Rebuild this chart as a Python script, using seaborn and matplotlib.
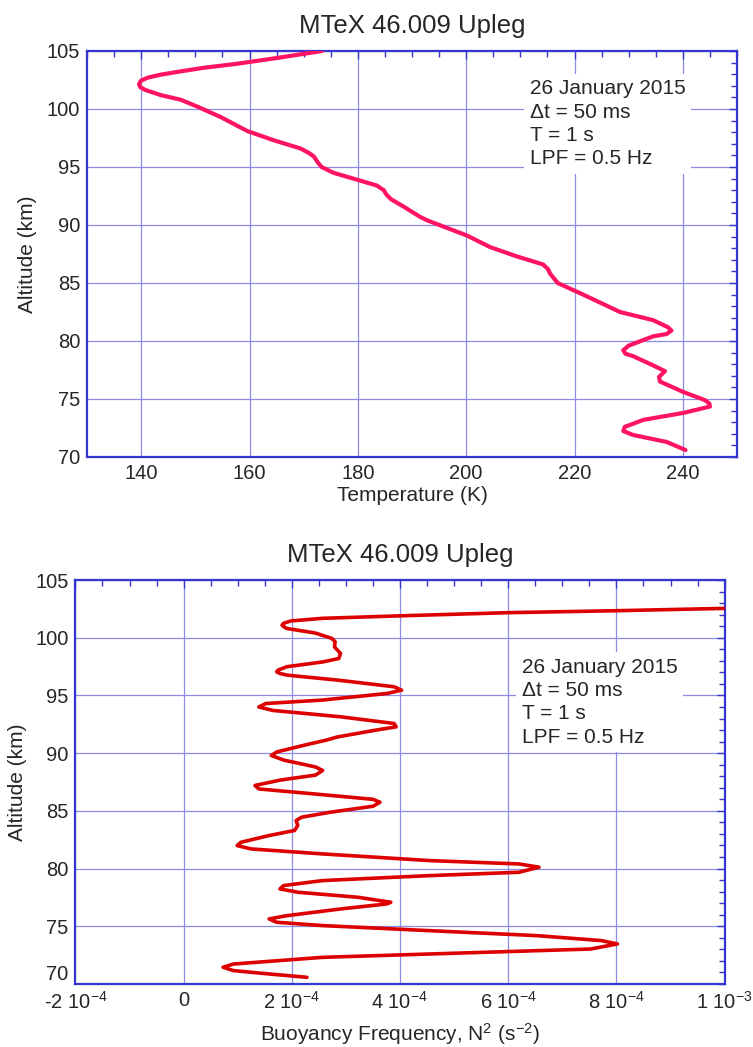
import matplotlib
matplotlib.use("Agg")
import matplotlib.pyplot as plt
import seaborn as sns
import numpy as np
from matplotlib.ticker import MultipleLocator, FixedLocator

# Temperature profile, MTeX 46.009 upleg (altitude in km, temperature in K)
temp_alt = [105.0, 104.4, 103.9, 103.55, 103.2, 102.95, 102.7, 102.45, 102.15, 101.9,
            101.65, 101.2, 100.8, 100.2, 99.3, 98.1, 97.3, 96.6, 96.2, 95.9,
            95.4, 95.0, 94.5, 93.9, 93.4, 93.0, 92.6, 92.2, 91.6, 90.7,
            90.4, 89.1, 88.1, 87.3, 86.6, 86.2, 85.8, 85.0, 84.0, 82.5,
            81.8, 81.2, 80.9, 80.6, 80.4, 79.6, 79.2, 78.9, 78.7, 77.9,
            77.4, 76.9, 76.5, 75.6, 74.9, 74.6, 74.35, 73.8, 73.2, 72.6,
            72.24, 71.9, 71.3, 70.6]
temp_K = [173.4, 165.1, 157.7, 151.5, 146.7, 143.5, 141.2, 140.0, 139.6, 139.8,
          140.7, 143.6, 147.3, 150.4, 154.7, 159.6, 164.5, 169.4, 171.0, 171.9,
          172.6, 173.3, 175.5, 179.9, 183.5, 184.8, 185.3, 186.2, 188.4, 191.5,
          192.8, 200.1, 204.4, 209.3, 214.2, 215.1, 215.5, 216.9, 221.6, 228.4,
          234.5, 237.2, 237.9, 237.0, 234.5, 230.0, 229.0, 229.4, 230.8, 234.5,
          236.7, 235.6, 235.8, 240.1, 244.1, 244.9, 245.0, 240.1, 232.7, 229.3,
          229.0, 230.8, 237.0, 240.5]

# Buoyancy frequency squared profile (N^2 in units of 1e-4 s^-2)
n2_alt = [102.75, 102.54, 102.34, 102.17, 101.9, 101.68, 101.45, 101.25, 101.1, 100.95,
          100.8, 100.4, 99.94, 99.65, 99.2, 98.64, 98.2, 97.9, 97.49, 97.2,
          97.05, 96.9, 96.76, 96.3, 95.75, 95.46, 95.17, 94.6, 94.3, 94.0,
          93.7, 93.15, 92.57, 92.28, 92.0, 91.4, 91.13, 90.7, 90.1, 89.8,
          89.4, 88.8, 88.5, 88.1, 87.66, 87.2, 86.9, 86.4, 86.0, 85.75,
          85.4, 84.88, 84.45, 84.16, 83.73, 83.3, 82.86, 82.28, 81.99, 81.7,
          81.27, 80.69, 80.4, 80.12, 79.68, 79.39, 78.96, 78.53, 78.24, 77.95,
          77.51, 77.08, 76.94, 76.5, 75.92, 75.64, 75.35, 75.06, 74.62, 74.19,
          73.76, 73.47, 73.03, 72.6, 72.31, 71.73, 71.45, 71.16, 70.87, 70.58]
n2_e4 = [12.0, 10.0, 8.0, 6.0, 4.03, 2.57, 1.98, 1.85, 1.82, 1.85,
         1.91, 2.44, 2.74, 2.8, 2.79, 2.9, 2.87, 2.57, 1.91, 1.75,
         1.72, 1.78, 1.91, 2.9, 3.89, 4.03, 3.76, 2.57, 1.52, 1.39,
         1.65, 2.9, 3.89, 3.93, 3.56, 2.84, 2.64, 2.24, 1.72, 1.62,
         1.85, 2.44, 2.57, 2.44, 1.78, 1.32, 1.39, 2.57, 3.5, 3.63,
         3.5, 2.71, 2.18, 2.08, 2.11, 2.05, 1.58, 1.06, 0.99, 1.25,
         2.57, 4.55, 6.2, 6.57, 6.2, 4.55, 2.57, 1.85, 1.78, 2.11,
         3.23, 3.83, 3.76, 2.9, 1.91, 1.58, 1.72, 2.57, 4.55, 6.53,
         7.72, 8.02, 7.52, 4.55, 2.57, 0.92, 0.73, 0.92, 1.58, 2.28]

alt_ticks = [70, 75, 80, 85, 90, 95, 100, 105]
temp_ticks = [140, 160, 180, 200, 220, 240]
n2_ticks = [-2e-4, 0, 2e-4, 4e-4, 6e-4, 8e-4, 1e-3]
n2_tick_labels = ["-2 10$^{-4}$", "0", "2 10$^{-4}$", "4 10$^{-4}$",
                  "6 10$^{-4}$", "8 10$^{-4}$", "1 10$^{-3}$"]

title = "MTeX 46.009 Upleg"
note = "26 January 2015\n\u0394t = 50 ms\nT = 1 s\nLPF = 0.5 Hz"

sns.set_style("white")
plt.rcParams["font.family"] = ["Liberation Sans", "DejaVu Sans"]
plt.rcParams["mathtext.fontset"] = "custom"
plt.rcParams["mathtext.rm"] = "Liberation Sans"
plt.rcParams["mathtext.default"] = "regular"

SPINE = "#3535d0"
GRID = "#8c8ce8"

fig = plt.figure(figsize=(7.53, 10.47), dpi=100)
ax1 = fig.add_axes([87 / 753, 1 - 457 / 1047, 650 / 753, 406 / 1047])
ax2 = fig.add_axes([75.4 / 753, 1 - 984 / 1047, 649.2 / 753, 404 / 1047])


def style_axes(ax):
    for sp in ax.spines.values():
        sp.set_visible(True)
        sp.set_color(SPINE)
        sp.set_linewidth(1.6)
    ax.grid(True, which="major", color=GRID, lw=0.9)
    ax.tick_params(which="both", direction="in", top=True, right=True,
                   color=SPINE, labelsize=14.5, pad=5)
    ax.tick_params(which="major", length=6, width=1.0)
    ax.tick_params(which="minor", length=4, width=1.0)
    ax.set_axisbelow(True)


# Upper panel: temperature
sns.lineplot(x=temp_K, y=temp_alt, sort=False, estimator=None, ax=ax1,
             color="#ff1464", lw=3.0, zorder=4,
             solid_joinstyle="round", solid_capstyle="round")
ax1.set_xlim(130, 250)
ax1.set_ylim(70, 105)
ax1.xaxis.set_major_locator(FixedLocator(temp_ticks))
ax1.xaxis.set_minor_locator(MultipleLocator(5))
ax1.yaxis.set_major_locator(FixedLocator(alt_ticks))
ax1.yaxis.set_minor_locator(MultipleLocator(1))
style_axes(ax1)
ax1.set_xlabel("Temperature (K)", fontsize=15, labelpad=2)
ax1.set_ylabel("Altitude (km)", fontsize=15, labelpad=7)
ax1.set_title(title, fontsize=18.5, pad=13)
ax1.text(0.6815, 0.7217, note, transform=ax1.transAxes, fontsize=15,
         va="baseline", ha="left", linespacing=1.28, zorder=3,
         bbox=dict(facecolor="white", edgecolor="none", pad=4))

# Lower panel: buoyancy frequency
n2 = np.array(n2_e4) * 1e-4
sns.lineplot(x=n2, y=n2_alt, sort=False, estimator=None, ax=ax2,
             color="#dd0000", lw=2.6, zorder=4,
             solid_joinstyle="round", solid_capstyle="round")
ax2.set_xlim(-2e-4, 1e-3)
ax2.set_ylim(70, 105)
ax2.set_xticks(n2_ticks, n2_tick_labels)
ax2.xaxis.set_minor_locator(MultipleLocator(0.5e-4))
ax2.yaxis.set_major_locator(FixedLocator(alt_ticks))
ax2.yaxis.set_minor_locator(MultipleLocator(1))
style_axes(ax2)
ax2.set_xlabel("Buoyancy Frequency, N$^2$ (s$^{-2}$)", fontsize=15, labelpad=6)
ax2.set_ylabel("Altitude (km)", fontsize=15, labelpad=6)
ax2.set_title(title, fontsize=18.5, pad=13)
ax2.text(0.6875, 0.5973, note, transform=ax2.transAxes, fontsize=15,
         va="baseline", ha="left", linespacing=1.28, zorder=3,
         bbox=dict(facecolor="white", edgecolor="none", pad=4))

fig.canvas.draw()
for lbl in ax2.get_yticklabels():
    if lbl.get_text() == "70":
        lbl.set_verticalalignment("bottom")

fig.savefig("out.png", dpi=100)
